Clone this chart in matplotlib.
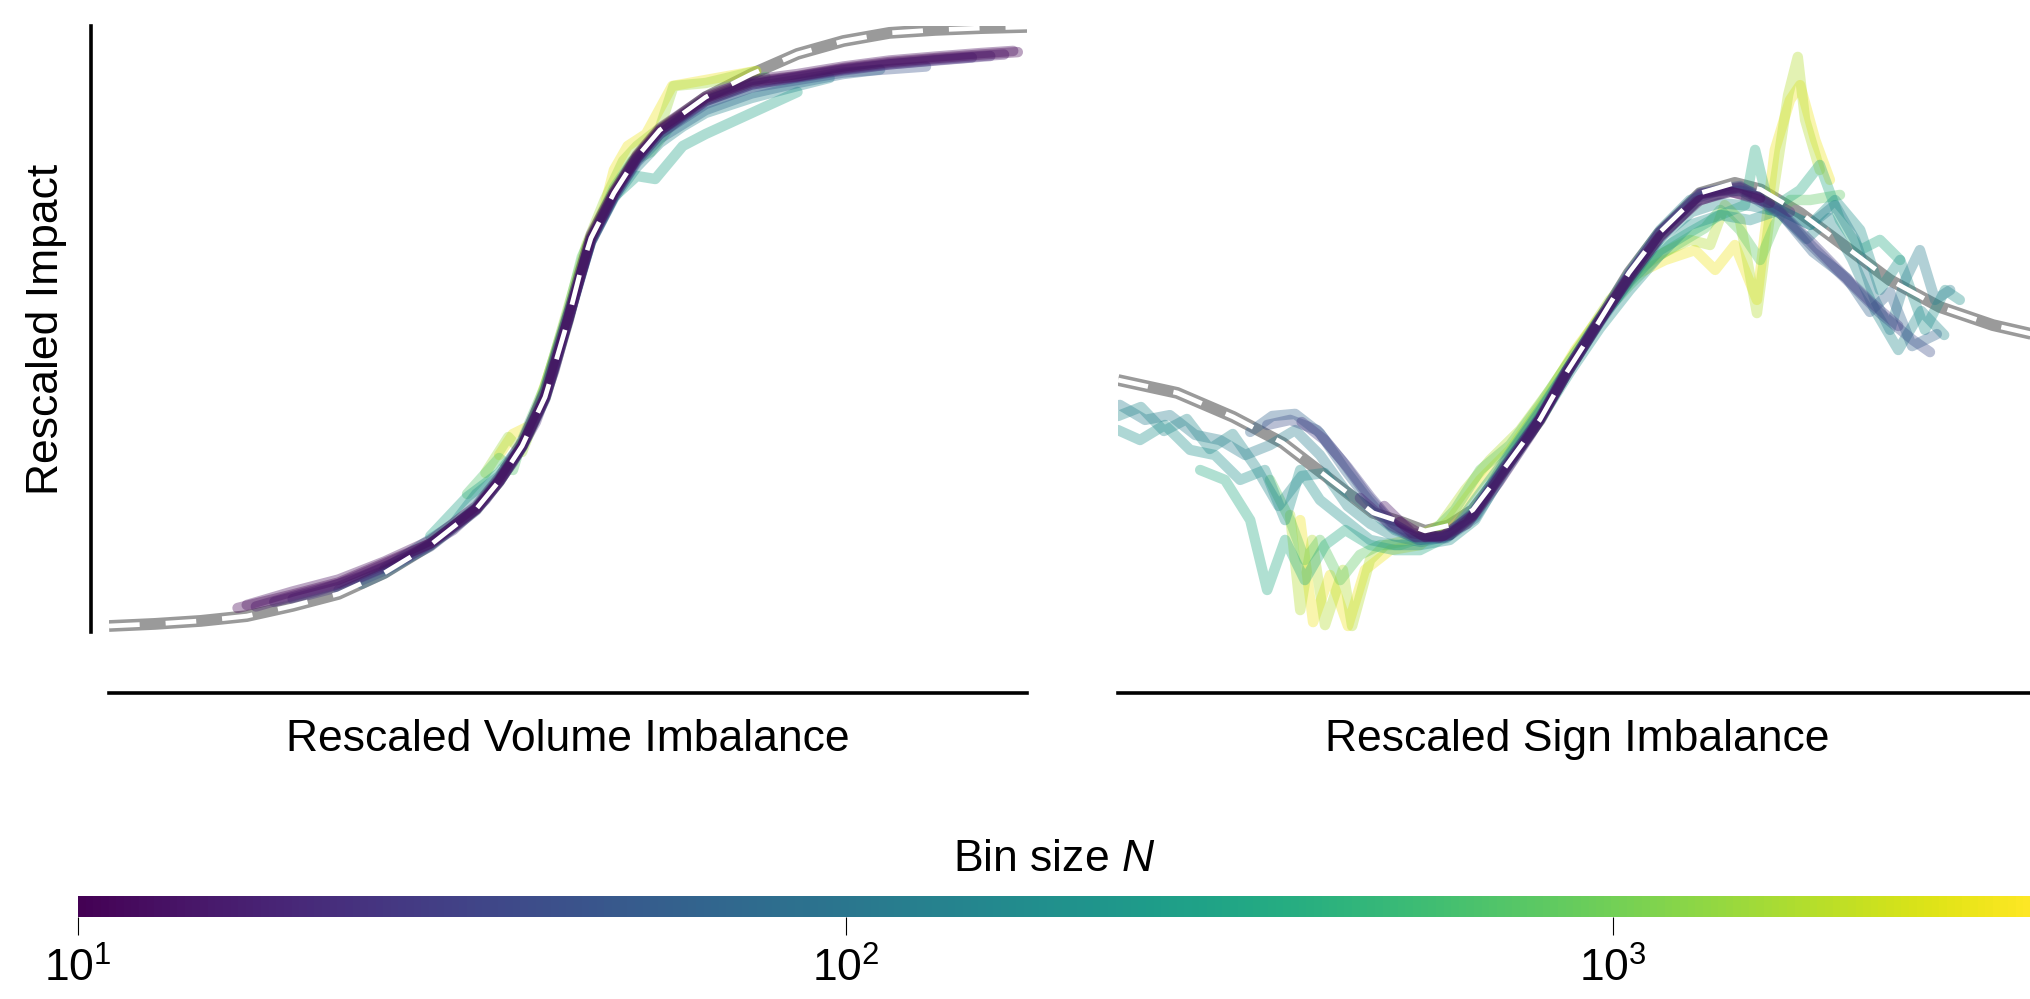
import matplotlib
matplotlib.use("Agg")
import matplotlib.pyplot as plt
from matplotlib.colors import LogNorm
from matplotlib.cm import ScalarMappable

plt.rcParams['font.family'] = ['Liberation Sans', 'DejaVu Sans']
plt.rcParams['mathtext.fontset'] = 'custom'
plt.rcParams['mathtext.rm'] = 'Liberation Sans'
plt.rcParams['mathtext.it'] = 'Liberation Sans:italic'
plt.rcParams['font.size'] = 32

# ---- panel 1: rescaled volume imbalance ----
vol_fit_x = [-1.0, -0.9, -0.8, -0.7, -0.6, -0.5, -0.4, -0.3, -0.2, -0.15, -0.1, -0.05, -0.025,
             0.0, 0.025, 0.05, 0.1, 0.15, 0.2, 0.3, 0.4, 0.5, 0.6, 0.7, 0.8, 0.9, 1.0]
vol_fit_y = [-1.0, -0.993, -0.983, -0.967, -0.933, -0.893, -0.823, -0.73, -0.61, -0.517, -0.40, -0.237, -0.11,
             0.02, 0.17, 0.293, 0.443, 0.563, 0.653, 0.763, 0.84, 0.907, 0.95, 0.977, 0.987, 0.993, 0.997]

vol_N = [10, 12, 15, 20, 25, 45, 80, 150, 300, 700, 1500, 3000]
vol_x = [
    [-0.72, -0.6, -0.5, -0.4, -0.3, -0.2, -0.15, -0.1, -0.05, 0, 0.05, 0.1, 0.15, 0.2, 0.3, 0.4, 0.5, 0.6, 0.7, 0.8, 0.9, 0.98],
    [-0.70, -0.6, -0.5, -0.4, -0.3, -0.2, -0.15, -0.1, -0.05, 0, 0.05, 0.1, 0.15, 0.2, 0.3, 0.4, 0.5, 0.6, 0.7, 0.8, 0.9, 0.97],
    [-0.68, -0.6, -0.5, -0.4, -0.3, -0.2, -0.15, -0.1, -0.05, 0, 0.05, 0.1, 0.15, 0.2, 0.3, 0.4, 0.5, 0.6, 0.7, 0.8, 0.95],
    [-0.64, -0.55, -0.45, -0.35, -0.25, -0.18, -0.12, -0.07, -0.03, 0.01, 0.05, 0.1, 0.15, 0.2, 0.3, 0.4, 0.5, 0.6, 0.7, 0.8, 0.92],
    [-0.6, -0.5, -0.4, -0.3, -0.2, -0.15, -0.1, -0.05, 0, 0.05, 0.1, 0.15, 0.2, 0.3, 0.4, 0.5, 0.6, 0.7, 0.88],
    [-0.5, -0.4, -0.3, -0.2, -0.15, -0.1, -0.05, 0, 0.05, 0.1, 0.15, 0.2, 0.3, 0.4, 0.5, 0.6, 0.78],
    [-0.45, -0.4, -0.3, -0.2, -0.15, -0.1, -0.05, 0, 0.05, 0.1, 0.15, 0.2, 0.3, 0.4, 0.5, 0.6, 0.68],
    [-0.4, -0.3, -0.25, -0.2, -0.15, -0.1, -0.05, 0, 0.05, 0.1, 0.15, 0.2, 0.25, 0.3, 0.4, 0.5, 0.57],
    [-0.3, -0.22, -0.15, -0.1, -0.05, 0, 0.05, 0.1, 0.15, 0.19, 0.25, 0.3, 0.4, 0.5],
    [-0.22, -0.15, -0.12, -0.1, -0.05, 0, 0.03, 0.07, 0.1, 0.14, 0.18, 0.22, 0.28, 0.35, 0.43],
    [-0.18, -0.13, -0.1, -0.07, -0.03, 0, 0.04, 0.08, 0.12, 0.15, 0.2, 0.23, 0.3, 0.41],
    [-0.15, -0.12, -0.08, -0.04, 0, 0.04, 0.08, 0.1, 0.13, 0.17, 0.227, 0.3, 0.41],
]
vol_y = [
    [-0.94, -0.895, -0.855, -0.79, -0.725, -0.61, -0.517, -0.40, -0.237, 0.02, 0.293, 0.443, 0.563, 0.653, 0.76, 0.815, 0.833, 0.86, 0.88, 0.893, 0.905, 0.913],
    [-0.93, -0.885, -0.845, -0.785, -0.715, -0.6, -0.505, -0.385, -0.215, 0.04, 0.305, 0.45, 0.57, 0.66, 0.765, 0.82, 0.84, 0.865, 0.885, 0.898, 0.91, 0.917],
    [-0.935, -0.9, -0.86, -0.795, -0.725, -0.61, -0.515, -0.40, -0.235, 0.02, 0.29, 0.44, 0.56, 0.65, 0.755, 0.81, 0.832, 0.857, 0.876, 0.89, 0.905],
    [-0.92, -0.885, -0.835, -0.77, -0.68, -0.58, -0.455, -0.32, -0.15, 0.08, 0.28, 0.43, 0.55, 0.64, 0.75, 0.805, 0.828, 0.852, 0.872, 0.886, 0.9],
    [-0.91, -0.87, -0.805, -0.73, -0.61, -0.52, -0.40, -0.24, 0.02, 0.29, 0.44, 0.56, 0.65, 0.75, 0.805, 0.83, 0.855, 0.872, 0.895],
    [-0.88, -0.815, -0.735, -0.615, -0.52, -0.405, -0.245, 0.015, 0.285, 0.435, 0.555, 0.64, 0.74, 0.795, 0.82, 0.845, 0.865],
    [-0.86, -0.825, -0.73, -0.605, -0.51, -0.40, -0.24, 0.02, 0.28, 0.43, 0.545, 0.625, 0.72, 0.775, 0.81, 0.84, 0.855],
    [-0.81, -0.71, -0.66, -0.56, -0.5, -0.40, -0.22, 0.03, 0.28, 0.425, 0.53, 0.61, 0.665, 0.71, 0.76, 0.80, 0.827],
    [-0.70, -0.57, -0.49, -0.39, -0.21, 0.04, 0.285, 0.43, 0.50, 0.49, 0.60, 0.64, 0.71, 0.78],
    [-0.56, -0.44, -0.48, -0.38, -0.2, 0.05, 0.23, 0.36, 0.46, 0.55, 0.58, 0.66, 0.74, 0.78, 0.83],
    [-0.49, -0.37, -0.42, -0.3, -0.1, 0.06, 0.27, 0.42, 0.55, 0.6, 0.66, 0.8, 0.81, 0.85],
    [-0.43, -0.36, -0.33, -0.15, 0.04, 0.26, 0.40, 0.52, 0.6, 0.64, 0.8, 0.82, 0.85],
]

# ---- panel 2: rescaled sign imbalance ----
sign_fit_x = [-1.0, -0.871, -0.749, -0.641, -0.545, -0.444, -0.38, -0.331, -0.28, -0.227, -0.161, -0.081, -0.022,
              0.046, 0.113, 0.179, 0.268, 0.344, 0.40, 0.486, 0.58, 0.682, 0.791, 0.906, 1.0]
sign_fit_y = [-0.18, -0.223, -0.303, -0.39, -0.503, -0.623, -0.655, -0.683, -0.665, -0.613, -0.48, -0.313, -0.153,
              0.01, 0.177, 0.31, 0.443, 0.477, 0.455, 0.377, 0.27, 0.153, 0.063, 0.003, -0.03]

sign_N = [10, 13, 18, 28, 40, 65, 120, 160, 200, 350, 800, 1800, 3000]
sign_x = [
    [-0.386, -0.331, -0.277, -0.227, -0.161, -0.081, -0.022, 0.046, 0.115, 0.181, 0.268, 0.333, 0.399],
    [-0.42, -0.36, -0.3, -0.24, -0.17, -0.1, -0.03, 0.04, 0.11, 0.18, 0.26, 0.33, 0.42],
    [-0.473, -0.407, -0.353, -0.292, -0.227, -0.161, -0.081, -0.022, 0.046, 0.115, 0.181, 0.268, 0.355, 0.42, 0.464],
    [-0.6, -0.55, -0.5, -0.45, -0.4, -0.35, -0.29, -0.23, -0.16, -0.08, -0.02, 0.05, 0.115, 0.18, 0.27, 0.355,
     0.44, 0.51, 0.58, 0.64, 0.7],
    [-0.675, -0.625, -0.566, -0.51, -0.458, -0.407, -0.353, -0.292, -0.227, -0.161, -0.081, -0.022, 0.046, 0.115,
     0.181, 0.268, 0.355, 0.442, 0.514, 0.588, 0.66, 0.732, 0.769],
    [-0.712, -0.664, -0.614, -0.56, -0.505, -0.455, -0.403, -0.346, -0.285, -0.222, -0.157, -0.081, -0.02, 0.05,
     0.115, 0.181, 0.268, 0.355, 0.447, 0.514, 0.588, 0.638, 0.682, 0.73, 0.784],
    [-0.996, -0.941, -0.887, -0.832, -0.778, -0.723, -0.669, -0.614, -0.56, -0.505, -0.451, -0.397, -0.342, -0.277,
     -0.222, -0.157, -0.081, -0.015, 0.05, 0.115, 0.181, 0.246, 0.312, 0.377, 0.442, 0.508, 0.562, 0.606, 0.649,
     0.682, 0.715, 0.747, 0.78, 0.813],
    [-1.0, -0.95, -0.9, -0.85, -0.8, -0.75, -0.7, -0.65, -0.6, -0.55, -0.5, -0.45, -0.4, -0.34, -0.28, -0.22,
     -0.16, -0.08, -0.015, 0.05, 0.115, 0.18, 0.25, 0.31, 0.38, 0.44, 0.5, 0.55, 0.6, 0.65, 0.7, 0.75, 0.8],
    [-1.0, -0.952, -0.898, -0.843, -0.789, -0.734, -0.68, -0.636, -0.603, -0.56, -0.505, -0.451, -0.397, -0.342,
     -0.277, -0.222, -0.157, -0.081, -0.015, 0.05, 0.115, 0.181, 0.246, 0.312, 0.377, 0.442, 0.508, 0.562, 0.617,
     0.66, 0.704, 0.758, 0.802, 0.834],
    [-0.821, -0.767, -0.712, -0.675, -0.636, -0.593, -0.549, -0.505, -0.451, -0.397, -0.342, -0.277, -0.222, -0.157,
     -0.081, -0.015, 0.05, 0.115, 0.181, 0.246, 0.312, 0.366, 0.388, 0.42, 0.486, 0.529, 0.573, 0.617, 0.66, 0.704],
    [-0.669, -0.625, -0.593, -0.56, -0.516, -0.473, -0.429, -0.386, -0.32, -0.266, -0.211, -0.146, -0.081, -0.015,
     0.05, 0.115, 0.181, 0.235, 0.279, 0.312, 0.355, 0.399, 0.431, 0.464, 0.508, 0.573],
    [-0.625, -0.603, -0.577, -0.549, -0.51, -0.49, -0.451, -0.418, -0.364, -0.298, -0.244, -0.19, -0.124, -0.059,
     0.007, 0.072, 0.137, 0.192, 0.246, 0.29, 0.322, 0.355, 0.392, 0.425, 0.46, 0.481, 0.497, 0.529],
    [-0.603, -0.575, -0.538, -0.499, -0.462, -0.407, -0.342, -0.277, -0.211, -0.146, -0.07, -0.004, 0.061, 0.126,
     0.192, 0.257, 0.301, 0.344, 0.392, 0.431, 0.464, 0.486, 0.519, 0.551],
]
sign_y = [
    [-0.653, -0.703, -0.697, -0.633, -0.487, -0.313, -0.153, 0.01, 0.163, 0.30, 0.42, 0.447, 0.427],
    [-0.6, -0.69, -0.705, -0.66, -0.52, -0.36, -0.18, -0.005, 0.155, 0.295, 0.415, 0.45, 0.41],
    [-0.573, -0.663, -0.703, -0.70, -0.627, -0.477, -0.307, -0.147, 0.017, 0.173, 0.313, 0.44, 0.463, 0.42, 0.38],
    [-0.32, -0.38, -0.47, -0.57, -0.66, -0.705, -0.705, -0.635, -0.485, -0.31, -0.15, 0.015, 0.17, 0.31, 0.44,
     0.46, 0.385, 0.28, 0.17, 0.08, 0.0],
    [-0.33, -0.313, -0.347, -0.453, -0.563, -0.653, -0.70, -0.70, -0.63, -0.48, -0.307, -0.147, 0.013, 0.17,
     0.313, 0.443, 0.467, 0.377, 0.263, 0.153, 0.043, -0.047, -0.087],
    [-0.353, -0.30, -0.293, -0.357, -0.48, -0.58, -0.67, -0.713, -0.707, -0.64, -0.487, -0.313, -0.153, 0.013,
     0.153, 0.293, 0.427, 0.453, 0.37, 0.247, 0.16, 0.047, 0.113, -0.067, -0.027],
    [-0.263, -0.313, -0.297, -0.363, -0.38, -0.43, -0.397, -0.347, -0.43, -0.547, -0.613, -0.68, -0.713, -0.697,
     -0.613, -0.453, -0.287, -0.13, 0.027, 0.18, 0.32, 0.42, 0.453, 0.447, 0.387, 0.337, 0.403, 0.287, 0.087,
     -0.013, 0.153, 0.253, 0.087, 0.12],
    [-0.3, -0.27, -0.35, -0.31, -0.41, -0.36, -0.47, -0.6, -0.5, -0.49, -0.6, -0.66, -0.7, -0.72, -0.7, -0.63,
     -0.47, -0.3, -0.14, 0.02, 0.16, 0.29, 0.38, 0.41, 0.40, 0.38, 0.29, 0.36, 0.22, 0.05, -0.08, 0.05, -0.03],
    [-0.347, -0.38, -0.33, -0.413, -0.43, -0.513, -0.48, -0.647, -0.48, -0.58, -0.647, -0.713, -0.73, -0.73,
     -0.713, -0.647, -0.48, -0.313, -0.153, -0.007, 0.12, 0.237, 0.337, 0.37, 0.353, 0.387, 0.337, 0.42, 0.32,
     0.12, 0.22, -0.013, 0.12, 0.087],
    [-0.48, -0.513, -0.647, -0.88, -0.713, -0.847, -0.73, -0.68, -0.73, -0.747, -0.747, -0.697, -0.58, -0.447,
     -0.28, -0.13, 0.02, 0.147, 0.253, 0.313, 0.37, 0.403, 0.587, 0.387, 0.453, 0.537, 0.353, 0.253, 0.287, 0.22],
    [-0.513, -0.647, -0.78, -0.713, -0.847, -0.763, -0.73, -0.73, -0.697, -0.613, -0.48, -0.397, -0.263, -0.113,
     0.027, 0.137, 0.237, 0.287, 0.327, 0.387, 0.32, 0.22, 0.337, 0.42, 0.42, 0.437],
    [-0.63, -0.947, -0.713, -0.997, -0.813, -1.0, -0.78, -0.73, -0.713, -0.663, -0.547, -0.447, -0.347, -0.213,
     -0.063, 0.087, 0.193, 0.247, 0.287, 0.27, 0.403, 0.353, 0.043, 0.42, 0.77, 0.897, 0.687, 0.52],
    [-0.647, -0.987, -0.83, -1.0, -0.813, -0.747, -0.73, -0.647, -0.513, -0.413, -0.247, -0.08, 0.053, 0.17,
     0.22, 0.253, 0.187, 0.27, 0.087, 0.587, 0.753, 0.803, 0.62, 0.487],
]

norm = LogNorm(vmin=10, vmax=3500)
cmap = plt.get_cmap('viridis')

W, H = 2031, 999
fig = plt.figure(figsize=(W / 100, H / 100), dpi=100)
ax1 = fig.add_axes([109 / W, 1 - 632 / H, 918 / W, 606 / H])
ax2 = fig.add_axes([1118 / W, 1 - 632 / H, 918 / W, 606 / H])

panels = [(ax1, vol_fit_x, vol_fit_y, vol_N, vol_x, vol_y, 'Rescaled Volume Imbalance'),
          (ax2, sign_fit_x, sign_fit_y, sign_N, sign_x, sign_y, 'Rescaled Sign Imbalance')]

for ax, fx, fy, Ns, xs, ys, lab in panels:
    ax.plot(fx, fy, color='#9a9a9a', lw=8.5, zorder=1, solid_capstyle='butt')
    # big bins first, small bins drawn on top
    for n, cx, cy in reversed(list(zip(Ns, xs, ys))):
        ax.plot(cx, cy, color=cmap(norm(n)), lw=7.5, alpha=0.36, zorder=2,
                solid_capstyle='round', solid_joinstyle='round')
    ax.plot(fx, fy, color='white', lw=3.4, dashes=(6.5, 5.5), zorder=3)
    ax.set_xlim(-1, 1)
    ax.set_ylim(-1.02, 1.0)
    ax.set_xticks([])
    ax.set_yticks([])
    for s in ['top', 'right']:
        ax.spines[s].set_visible(False)
    ax.spines['bottom'].set_position(('outward', 44))
    ax.spines['bottom'].set_linewidth(2.6)
    ax.set_xlabel(lab, labelpad=18.5)

ax1.spines['left'].set_position(('outward', 13))
ax1.spines['left'].set_linewidth(2.6)
ax1.set_ylabel('Rescaled Impact', labelpad=17)
ax2.spines['left'].set_visible(False)

cax = fig.add_axes([78 / W, 1 - 917 / H, (W - 78) / W, 21 / H])
cb = fig.colorbar(ScalarMappable(norm=norm, cmap=cmap), cax=cax, orientation='horizontal')
cb.outline.set_visible(False)
cax.xaxis.set_label_position('top')
cb.set_label(r'Bin size $N$', labelpad=18)
cax.tick_params(which='major', length=13, width=0.8, pad=9, labelsize=32)
cax.tick_params(which='minor', length=0)

fig.savefig('out.png', dpi=100)
